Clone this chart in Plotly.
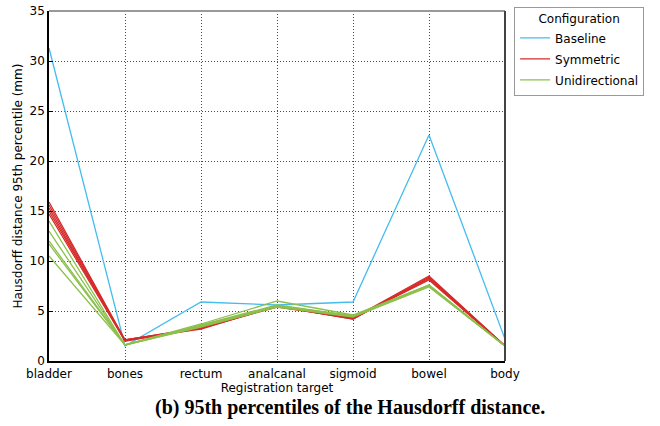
import plotly.graph_objects as go

categories = ["bladder", "bones", "rectum", "analcanal", "sigmoid", "bowel", "body"]

baseline = [[31.3, 1.5, 5.9, 5.6, 5.9, 22.6, 2.2]]

symmetric = [
    [15.9, 2.1, 3.3, 5.5, 4.3, 8.5, 1.5],
    [15.6, 2.1, 3.3, 5.5, 4.2, 8.4, 1.5],
    [15.3, 2.0, 3.3, 5.4, 4.3, 8.2, 1.5],
    [15.0, 2.1, 3.2, 5.5, 4.2, 8.3, 1.5],
    [14.7, 2.0, 3.3, 5.5, 4.3, 8.1, 1.5],
]

unidirectional = [
    [14.0, 1.6, 3.7, 6.0, 4.6, 7.6, 1.5],
    [13.0, 1.6, 3.6, 5.6, 4.5, 7.5, 1.5],
    [12.0, 1.6, 3.5, 5.5, 4.5, 7.6, 1.5],
    [11.7, 1.6, 3.4, 5.4, 4.4, 7.4, 1.5],
    [10.5, 1.6, 3.5, 5.5, 4.5, 7.5, 1.5],
]

series = [
    ("Baseline", baseline, "#45bcef"),
    ("Symmetric", symmetric, "#d62a2a"),
    ("Unidirectional", unidirectional, "#8cc04c"),
]

x_idx = list(range(len(categories)))

fig = go.Figure()
for name, runs, color in series:
    for i, run in enumerate(runs):
        fig.add_trace(go.Scatter(
            x=x_idx, y=run, mode="lines", name=name,
            legendgroup=name, showlegend=(i == 0),
            line=dict(color=color, width=1.3),
        ))

font_main = "DejaVu Sans"
grid_kw = dict(showgrid=True, gridcolor="rgba(40,40,40,0.85)", griddash="1px,2px", gridwidth=1)

fig.update_layout(
    width=660, height=426,
    margin=dict(l=49, r=155, t=7, b=65),
    paper_bgcolor="white", plot_bgcolor="white",
    font=dict(family=font_main, size=12, color="black"),
    showlegend=True,
    legend=dict(
        x=1.02, xanchor="left", y=1.012, yanchor="top",
        bordercolor="#999999", borderwidth=1,
        title=dict(text="Configuration", side="top center", font=dict(size=12)),
        font=dict(size=12), itemwidth=30, tracegroupgap=2,
    ),
)

fig.update_xaxes(
    range=[0, 6], tickmode="array", tickvals=x_idx, ticktext=categories,
    showline=True, linecolor="black", linewidth=1.5,
    ticks="", zeroline=False, ticklabelstandoff=1,
    title=dict(text="Registration target", font=dict(size=12), standoff=0),
    automargin=False, **grid_kw,
)
fig.update_yaxes(
    range=[0, 35], dtick=5,
    showline=True, linecolor="black", linewidth=1.5,
    ticks="inside", ticklen=4, tickcolor="black", zeroline=False,
    title=dict(text="Hausdorff distance 95th percentile (mm)", font=dict(size=12), standoff=4),
    automargin=False, **grid_kw,
)

# top and right spines
fig.add_shape(type="line", xref="paper", yref="paper", x0=0, x1=1, y0=1, y1=1,
              line=dict(color="#999999", width=2))
fig.add_shape(type="line", xref="paper", yref="paper", x0=1, x1=1, y0=0, y1=1,
              line=dict(color="#444444", width=2))

fig.add_annotation(
    text="<b>(b) 95th percentiles of the Hausdorff distance.</b>",
    xref="paper", yref="paper", x=0.66, y=-0.134, xanchor="center", yanchor="middle",
    showarrow=False, borderpad=0,
    font=dict(family="Liberation Serif", size=20, color="black"),
)

fig.write_html("out.html")
